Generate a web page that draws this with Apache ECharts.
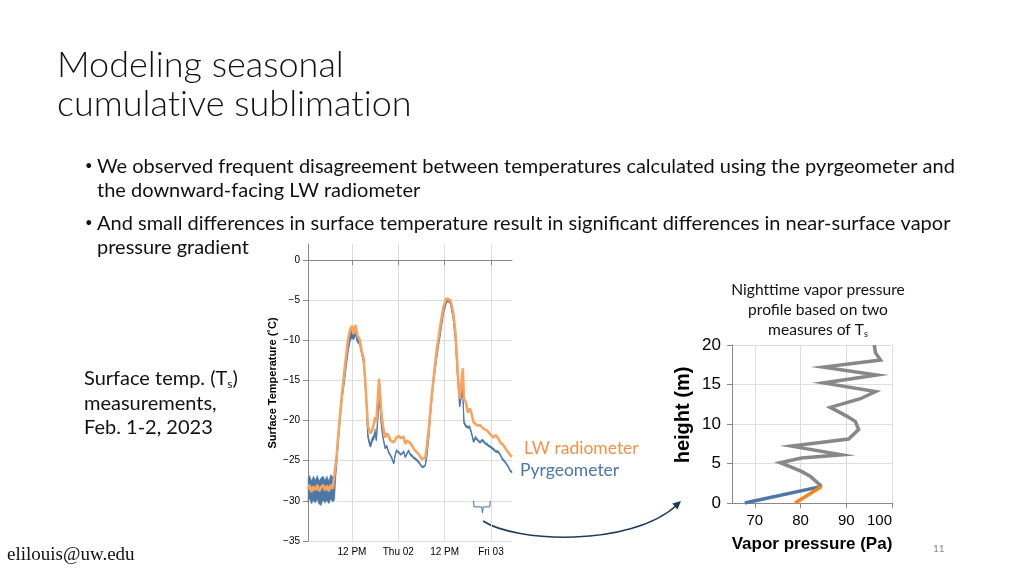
<!DOCTYPE html>
<html><head><meta charset="utf-8">
<script src="https://cdn.jsdelivr.net/npm/echarts@6/dist/echarts.min.js"></script>
<style>html,body{margin:0;padding:0;background:#fff;}#c{width:1024px;height:576px;}</style>
</head><body><div id="c"></div>
<script>
// ---- Left chart: surface temperature (hours since 2023-02-01 00:00) ----
const hours = [0.6,1.0,1.5,2.0,2.5,3.0,3.5,4.0,4.5,5.0,5.5,6.0,6.5,7.0,7.5,
  8.0,8.5,9.0,9.5,10.0,10.5,11.0,11.5,12.0,12.4,12.9,13.4,14.0,14.5,15.0,15.4,15.7,
  16.1,16.5,16.8,17.2,17.6,18.0,18.3,18.65,19.0,19.3,19.6,20.0,20.6,21.0,21.5,22.0,22.4,22.8,
  23.2,23.5,24.1,24.6,25.0,25.4,25.8,26.2,26.7,27.1,27.5,28.0,28.4,28.8,29.3,29.7,30.1,30.6,31.0,31.4,
  31.9,32.5,33.2,34.0,34.9,35.7,36.4,36.9,37.5,38.2,38.8,39.4,39.9,40.3,40.7,41.0,41.5,42.0,42.5,42.9,
  43.5,44.0,44.4,45.2,45.6,46.1,46.5,47.0,47.4,47.8,48.3,48.7,49.2,49.6,50.0,50.4,50.9,51.3,51.8,52.2,52.6,53.0,53.45];
const lwRadiometer = [-28.6,-28.0,-28.9,-28.2,-28.7,-28.0,-28.8,-28.3,-28.0,-28.7,-28.1,-28.8,-28.0,-28.5,-28.3,
  -24.5,-21.5,-18.8,-16.3,-14.0,-11.8,-9.8,-8.7,-8.2,-9.2,-8.1,-9.4,-9.9,-11.3,-12.2,-14.8,-17.2,
  -20.6,-21.3,-21.6,-21.2,-20.5,-19.6,-20.2,-17.6,-14.8,-16.9,-19.0,-20.6,-22.1,-21.6,-21.9,-22.5,-22.3,-22.7,
  -22.4,-22.1,-21.9,-22.2,-22.3,-22.0,-22.9,-22.5,-22.3,-22.8,-23.1,-23.5,-23.75,-23.9,-24.2,-24.5,-24.8,-24.9,-24.6,-23.1,
  -21.0,-17.7,-14.4,-11.0,-8.1,-5.8,-4.8,-4.6,-5.0,-6.5,-9.0,-14.0,-17.3,-15.6,-13.5,-17.3,-17.7,-19.0,-18.5,-19.0,
  -20.2,-20.4,-20.6,-20.6,-20.8,-21.0,-20.9,-21.25,-21.4,-21.7,-21.9,-22.1,-21.8,-21.9,-22.3,-22.7,-22.9,-23.1,-23.5,-23.75,-24.0,-24.3,-24.5];
const pyrgeometerLow = [-30.1,-29.5,-30.3,-29.8,-30.2,-29.6,-30.4,-30.6,-29.8,-30.2,-29.8,-30.3,-29.6,-30.1,-29.9,
  -25.5,-22.2,-19.4,-17.0,-15.2,-13.2,-11.3,-10.0,-9.6,-9.9,-9.2,-10.2,-10.5,-11.7,-12.7,-15.3,-17.8,
  -22.0,-22.9,-23.3,-22.6,-22.3,-21.5,-22.5,-20.0,-17.5,-18.5,-20.5,-22.1,-23.5,-23.2,-24.0,-24.4,-24.8,-25.4,
  -24.3,-23.8,-24.0,-24.3,-24.2,-23.9,-24.6,-24.2,-23.8,-24.3,-24.4,-24.7,-24.8,-25.0,-25.2,-25.5,-25.8,-25.9,-25.6,-24.4,
  -22.0,-18.2,-14.9,-11.9,-9.1,-6.6,-5.4,-5.0,-5.5,-7.2,-10.0,-15.0,-18.3,-17.0,-16.5,-20.3,-20.8,-21.0,-20.9,-21.5,
  -22.7,-22.2,-22.4,-22.8,-22.5,-22.6,-22.9,-23.0,-23.2,-23.3,-23.5,-23.6,-23.9,-23.9,-24.0,-24.3,-24.8,-25.0,-25.3,-25.6,-25.9,-26.3,-26.5];
const pyrgeometerHigh = [-27.2,-26.8,-27.5,-26.9,-27.4,-26.8,-27.5,-27.1,-26.9,-27.4,-26.9,-27.5,-26.7,-27.0,-26.9,
  -24.2,-21.2,-18.5,-16.0,-13.8,-11.7,-9.8,-8.8,-8.4,-9.2,-8.4,-9.4,-9.9,-11.3,-12.2,-14.8,-17.2,
  -21.5,-22.4,-22.8,-22.1,-21.8,-21.0,-22.0,-19.8,-17.3,-18.3,-20.3,-21.9,-23.3,-23.0,-23.8,-24.2,-24.6,-25.2,
  -24.1,-23.6,-23.8,-24.1,-24.0,-23.7,-24.4,-24.0,-23.6,-24.1,-24.2,-24.5,-24.6,-24.8,-25.0,-25.3,-25.6,-25.7,-25.4,-24.0,
  -21.2,-17.8,-14.5,-11.1,-8.2,-5.9,-4.9,-4.7,-5.1,-6.6,-9.1,-14.1,-17.5,-16.4,-15.8,-20.0,-20.5,-20.7,-20.6,-21.2,
  -22.4,-21.9,-22.2,-22.6,-22.3,-22.4,-22.7,-22.8,-23.0,-23.1,-23.3,-23.4,-23.7,-23.7,-23.8,-24.1,-24.6,-24.8,-25.1,-25.4,-25.7,-26.1,-26.3];
const xTickHours = [12, 24, 36, 48];
const xTickLabels = ['12 PM', 'Thu 02', '12 PM', 'Fri 03'];
const tempTicks = [-35, -30, -25, -20, -15, -10, -5, 0];
// nighttime bracket annotation (data coords)
const braceHours = [43.5, 43.6, 45.6, 45.8, 46.0, 47.7, 47.8];
const braceTemps = [-30, -30.75, -30.75, -31.5, -30.75, -30.75, -30];

// ---- Right chart: nighttime vapor pressure profile ----
const profileVapor  = [84.6,82.1,80.2,77.7,75.5,80.2,89.0,78.0,90.5,92.7,92.0,90.1,86.5,93.1,96.4,85.0,96.7,85.0,97.5,96.4,96.1];
const profileHeight = [2.1,3.4,4.0,4.6,5.1,5.7,6.1,7.2,8.1,9.3,10.3,11.0,12.1,13.2,14.1,15.2,16.2,17.2,18.1,19.0,20.0];
const pyrVapor = [67.8, 84.6], pyrHeight = [0, 2.1];
const lwVapor = [78.8, 84.6],  lwHeight = [0, 2.1];
const vaporTicks = [70, 80, 90, 100];

const BLUE = '#4C78A8', ORANGE = '#F58518', ORANGE_L = '#F7A461', GREY = '#888888';
const AX = '#888', GRIDC = '#dddddd';
const SANS = '"Liberation Sans", Arial, Helvetica, sans-serif';
const SLIDE = 'Lato, "Open Sans", sans-serif';
const minus = v => String(v).replace('-', '\u2212');

const chart = echarts.init(document.getElementById('c'));
function txt(x, y, text, font, fill, align, valign, extra) {
  return Object.assign({ type: 'text', x: x, y: y, silent: true,
    style: Object.assign({ text: text, font: font, fill: fill,
      align: align || 'left', textAlign: align || 'left',
      verticalAlign: valign || 'middle', textVerticalAlign: valign || 'middle' }, extra || {}) });
}
const titleRich = { n: { fontSize: 36, fontWeight: 300, fontFamily: SLIDE, fill: '#111' } };
const noteRich = { n: { fontSize: 15.6, fontFamily: SLIDE, fill: '#111' } };
const option = {
  animation: false,
  backgroundColor: '#ffffff',
  grid: [
    { left: 308, top: 244, width: 204, height: 297, outerBoundsMode: 'none', containLabel: false },
    { left: 732, top: 345, width: 160, height: 158, outerBoundsMode: 'none', containLabel: false }
  ],
  xAxis: [
    { type: 'value', gridIndex: 0, min: 0.6, max: 53.45,
      axisLine: { show: true, lineStyle: { color: AX, width: 1 } },
      axisTick: { show: true, customValues: xTickHours, length: 5, lineStyle: { color: AX } },
      axisLabel: { customValues: xTickHours, formatter: v => xTickLabels[xTickHours.indexOf(v)],
        fontSize: 10, color: '#000', margin: 6, fontFamily: SANS },
      splitLine: { show: true, lineStyle: { color: GRIDC, width: 1 } } },
    { type: 'value', gridIndex: 1, min: 65, max: 100,
      name: 'Vapor pressure (Pa)', nameLocation: 'middle', nameGap: 33,
      nameTextStyle: { fontWeight: 'bold', fontSize: 17, color: '#000', fontFamily: SANS },
      axisLine: { show: true, lineStyle: { color: AX, width: 1 } },
      axisTick: { show: true, customValues: vaporTicks, length: 5, lineStyle: { color: AX } },
      axisLabel: { customValues: vaporTicks, fontSize: 15, color: '#000', margin: 10, fontFamily: SANS, alignMaxLabel: 'right' },
      splitLine: { show: true, lineStyle: { color: GRIDC, width: 1 } } }
  ],
  yAxis: [
    { type: 'value', gridIndex: 0, min: -35, max: 2,
      name: 'Surface Temperature (\u02DAC)', nameLocation: 'middle', nameGap: 30,
      nameTextStyle: { fontWeight: 'bold', fontSize: 11, color: '#000', fontFamily: SANS, padding: [0, 0, 0, 19] },
      axisLine: { show: true, lineStyle: { color: AX, width: 1 } },
      axisTick: { show: true, customValues: tempTicks, length: 5, lineStyle: { color: AX } },
      axisLabel: { customValues: tempTicks, formatter: minus, fontSize: 10, color: '#000', margin: 8, fontFamily: SANS },
      splitLine: { show: true, lineStyle: { color: GRIDC, width: 1 } } },
    { type: 'value', gridIndex: 1, min: 0, max: 20, interval: 5,
      name: 'height (m)', nameLocation: 'middle', nameGap: 39,
      nameTextStyle: { fontWeight: 'bold', fontSize: 20, color: '#000', fontFamily: SANS, padding: [0, 0, 0, 18] },
      axisLine: { show: true, lineStyle: { color: AX, width: 1 } },
      axisTick: { show: true, length: 5, lineStyle: { color: AX } },
      axisLabel: { fontSize: 17, color: '#000', margin: 11, fontFamily: SANS },
      splitLine: { show: true, lineStyle: { color: GRIDC, width: 1 } } }
  ],
  series: [
    { type: 'custom', name: 'Pyrgeometer band', xAxisIndex: 0, yAxisIndex: 0, silent: true, z: 2,
      data: hours.map((h, i) => [h, pyrgeometerLow[i], pyrgeometerHigh[i]]),
      encode: { x: 0, y: [1, 2] },
      renderItem: function (params, api) {
        if (params.dataIndex !== 0) return null;
        const pts = [];
        for (let i = 0; i < hours.length; i++) pts.push(api.coord([hours[i], pyrgeometerHigh[i]]));
        for (let i = hours.length - 1; i >= 0; i--) pts.push(api.coord([hours[i], pyrgeometerLow[i]]));
        return { type: 'polygon', shape: { points: pts }, style: { fill: BLUE, stroke: BLUE, lineWidth: 0.4 } };
      } },
    { type: 'line', name: 'Pyrgeometer', xAxisIndex: 0, yAxisIndex: 0, z: 3, symbol: 'none',
      data: hours.map((h, i) => [h, pyrgeometerLow[i]]),
      lineStyle: { color: BLUE, width: 1.2 } },
    { type: 'line', name: 'LW radiometer', xAxisIndex: 0, yAxisIndex: 0, z: 4, symbol: 'none',
      data: hours.map((h, i) => [h, lwRadiometer[i]]),
      lineStyle: { color: ORANGE_L, width: 2.6 } },
    { type: 'line', name: 'brace', xAxisIndex: 0, yAxisIndex: 0, z: 4, symbol: 'none', silent: true,
      data: braceHours.map((h, i) => [h, braceTemps[i]]),
      lineStyle: { color: '#3F6FB5', width: 1 } },
    { type: 'line', name: 'profile', xAxisIndex: 1, yAxisIndex: 1, z: 3, symbol: 'none',
      data: profileVapor.map((v, i) => [v, profileHeight[i]]),
      lineStyle: { color: GREY, width: 3.5, join: 'miter' } },
    { type: 'line', name: 'Pyrgeometer profile', xAxisIndex: 1, yAxisIndex: 1, z: 4, symbol: 'none',
      data: pyrVapor.map((v, i) => [v, pyrHeight[i]]),
      lineStyle: { color: BLUE, width: 3.5 } },
    { type: 'line', name: 'LW profile', xAxisIndex: 1, yAxisIndex: 1, z: 4, symbol: 'none',
      data: lwVapor.map((v, i) => [v, lwHeight[i]]),
      lineStyle: { color: ORANGE, width: 3.5 } }
  ],
  graphic: [
    txt(57, 65, 'Modeling seasonal', '300 36px ' + SLIDE, '#111'),
    txt(57, 104, '{n|cumulat}{n|ive sublimat}{n|ion}', '300 36px ' + SLIDE, '#111', 'left', 'middle', { rich: titleRich }),
    txt(85, 166, '\u2022', '13px ' + SLIDE, '#111'),
    txt(97, 167, 'We observed frequent disagreement between temperatures calculated using the pyrgeometer and', '20px ' + SLIDE, '#111'),
    txt(97, 191, 'the downward-facing LW radiometer', '20px ' + SLIDE, '#111'),
    txt(85, 223, '\u2022', '13px ' + SLIDE, '#111'),
    txt(97, 224, 'And small differences in surface temperature result in significant differences in near-surface vapor', '20px ' + SLIDE, '#111'),
    txt(97, 248, 'pressure gradient', '20px ' + SLIDE, '#111'),
    txt(84, 379, 'Surface temp. (T{s|s})', '20px ' + SLIDE, '#111', 'left', 'middle',
      { rich: { s: { fontSize: 12, fontFamily: SLIDE, fill: '#111', padding: [10, 0, 0, 0] } } }),
    txt(84, 404, 'measurements,', '20px ' + SLIDE, '#111'),
    txt(84, 428, 'Feb. 1-2, 2023', '20px ' + SLIDE, '#111'),
    txt(818, 290, '{n|Night}{n|time vapor pressure}', '15.6px ' + SLIDE, '#111', 'center', 'middle', { rich: noteRich }),
    txt(818, 310, 'profile based on two', '15.6px ' + SLIDE, '#111', 'center'),
    txt(818, 330, 'measures of T{s|s}', '15.6px ' + SLIDE, '#111', 'center', 'middle',
      { rich: { s: { fontSize: 9, fontFamily: SLIDE, fill: '#111', padding: [8, 0, 0, 0] } } }),
    txt(524, 448, 'LW radiometer', '17.5px ' + SLIDE, '#F0924A'),
    txt(520, 470, 'Pyrgeometer', '17.5px ' + SLIDE, '#4A77AD'),
    txt(7, 555, 'elilouis@uw.edu', '19px "Liberation Serif", "Times New Roman", serif', '#111'),
    txt(933, 549, '11', '10px ' + SLIDE, '#8c8c8c'),
    { type: 'bezierCurve', silent: true,
      shape: { x1: 483, y1: 521, cpx1: 515, cpy1: 542, cpx2: 630, cpy2: 548, x2: 677, y2: 505 },
      style: { stroke: '#1F3A60', lineWidth: 1.5, fill: null } },
    { type: 'polygon', silent: true,
      shape: { points: [[681, 501], [677.5, 509.5], [672.3, 503.6]] },
      style: { fill: '#1F3A60' } }
  ]
};
chart.setOption(option);
</script>
</body></html>
